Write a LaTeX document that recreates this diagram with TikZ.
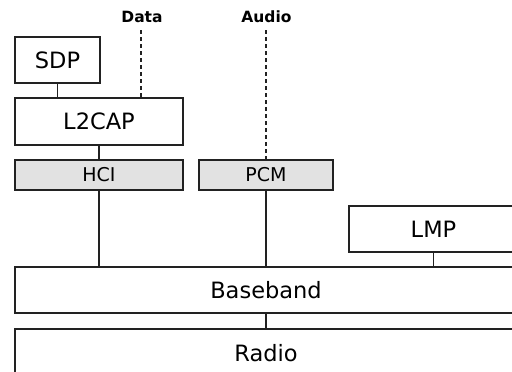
\documentclass[tikz,border=0pt]{standalone}
\usepackage{fontspec}
\setmainfont{DejaVu Sans}
\definecolor{boxgray}{HTML}{E2E2E2}
\definecolor{edge}{HTML}{222222}
\begin{document}
\begin{tikzpicture}[x=1pt,y=-1pt,
  layer/.style={draw=edge, line width=1.7pt, fill=white, rectangle, inner sep=0pt,
    font=\fontsize{22.5}{25}\selectfont},
  iface/.style={layer, fill=boxgray, font=\fontsize{19}{21}\selectfont},
  lbl/.style={inner sep=1pt, font=\bfseries\fontsize{15.5}{17}\selectfont},
  link/.style={draw=edge, line width=1.5pt},
  dlink/.style={link, dash pattern=on 4pt off 3pt}]
\useasboundingbox (0,0) rectangle (512,372);
\clip (0,0) rectangle (512,372);
\node[layer, minimum width=85pt, minimum height=46pt] (sdp) at (57.5,60) {SDP};
\node[layer, minimum width=168pt, minimum height=47pt] (l2cap) at (99,121.5) {L2CAP};
\node[iface, minimum width=168pt, minimum height=30pt] (hci) at (99,175) {HCI};
\node[iface, minimum width=134pt, minimum height=30pt] (pcm) at (266,175) {PCM};
\node[layer, minimum width=169pt, minimum height=46pt] (lmp) at (433.5,229) {LMP};
\node[layer, minimum width=502pt, minimum height=46pt] (baseband) at (266,290) {Baseband};
\node[layer, minimum width=502pt, minimum height=48pt] (radio) at (266,353) {Radio};
\node[lbl] (data) at (142,17) {Data};
\node[lbl] (audio) at (266.5,17) {Audio};
\coordinate (dtop) at (141,30);
\coordinate (atop) at (266,30);
\draw[link] (sdp.south) -- (sdp.south |- l2cap.north);
\draw[link] (l2cap.south) -- (hci.north);
\draw[link] (hci.south) -- (hci.south |- baseband.north);
\draw[link] (pcm.south) -- (pcm.south |- baseband.north);
\draw[link] (lmp.south) -- (lmp.south |- baseband.north);
\draw[link] (baseband.south) -- (radio.north);
\draw[dlink] (dtop) -- (dtop |- l2cap.north);
\draw[dlink] (atop) -- (atop |- pcm.north);
\end{tikzpicture}
\end{document}
